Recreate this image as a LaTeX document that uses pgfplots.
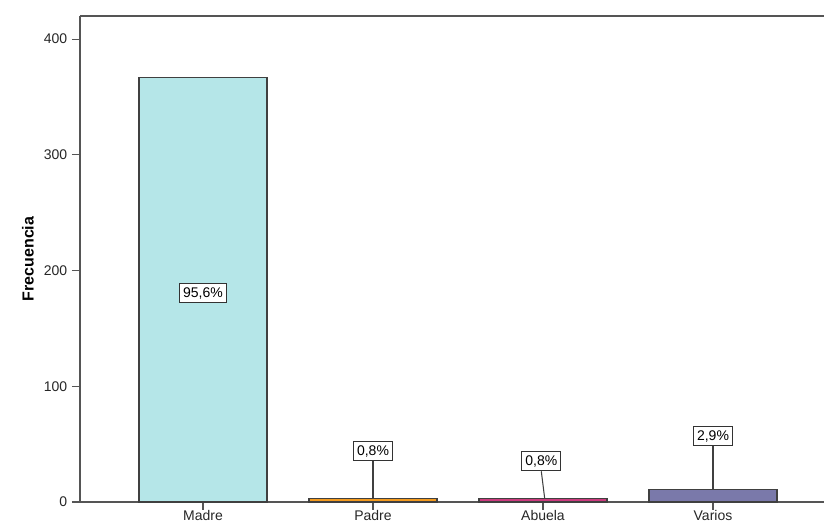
\documentclass[border=0pt]{standalone}
\usepackage{pgfplots}
\pgfplotsset{compat=1.18}
\usepackage{fontspec}
\setmainfont{Liberation Sans}
\definecolor{cMadre}{HTML}{B5E6E8}
\definecolor{cPadre}{HTML}{F39A1E}
\definecolor{cAbuela}{HTML}{CC3A7E}
\definecolor{cVarios}{HTML}{7A79AA}
\definecolor{axgray}{HTML}{555555}
\begin{document}
\begin{tikzpicture}
\begin{axis}[
  scale only axis, width=558pt, height=364.5pt,
  xmin=-0.7235, xmax=3.653, ymin=0, ymax=420,
  axis x line*=bottom, axis y line*=left,
  ybar, bar width=96pt, bar shift=0pt,
  xtick={0,1,2,3}, xticklabels={Madre,Padre,Abuela,Varios},
  ytick={0,100,200,300,400},
  tick align=outside, major tick length=6pt,
  tick style={color=axgray, line width=0.8pt},
  axis line style={axgray, line width=0.9pt},
  ticklabel style={font=\fontsize{10.5}{12}\selectfont, text=black!85},
  xticklabel style={yshift=3pt},
  /pgf/number format/assume math mode=true,
  ylabel={Frecuencia},
  ylabel style={font=\fontsize{12}{14}\selectfont\bfseries, at={(axis description cs:0,0.5)}, anchor=center, yshift=39pt},
  clip=false,
]
\addplot[fill=cMadre, draw=black!75, line width=0.8pt] coordinates {(0,367)};
\addplot[fill=cPadre, draw=black!75, line width=0.8pt] coordinates {(1,3)};
\addplot[fill=cAbuela, draw=black!75, line width=0.8pt] coordinates {(2,3)};
\addplot[fill=cVarios, draw=black!75, line width=0.8pt] coordinates {(3,11)};
\draw[axgray, line width=0.9pt] (rel axis cs:0,1) -- (rel axis cs:1,1);
\begin{scope}[every node/.style={draw=black!80, fill=white, line width=0.7pt, inner xsep=2.7pt, inner ysep=3pt, font=\fontsize{10.5}{12}\selectfont}]
\node (lm) at (axis cs:0,180.6) {95,6\%};
\node (lp) at (axis cs:1,44) {0,8\%};
\node (la) at (axis cs:1.99,35.4) {0,8\%};
\node (lv) at (axis cs:3,57) {2,9\%};
\end{scope}
\draw[black!75, line width=0.8pt] (lp.south) -- (axis cs:1,3);
\draw[black!75, line width=0.8pt] (la.south) -- (axis cs:2.01,3);
\draw[black!75, line width=0.8pt] (lv.south) -- (axis cs:3,11);
\coordinate (bl) at (rel axis cs:0,0);
\coordinate (tr) at (rel axis cs:1,1);
\end{axis}
\pgfresetboundingbox
\path ([xshift=-60pt,yshift=-15.75pt]bl) rectangle ([yshift=12pt]tr);
\end{tikzpicture}
\end{document}
